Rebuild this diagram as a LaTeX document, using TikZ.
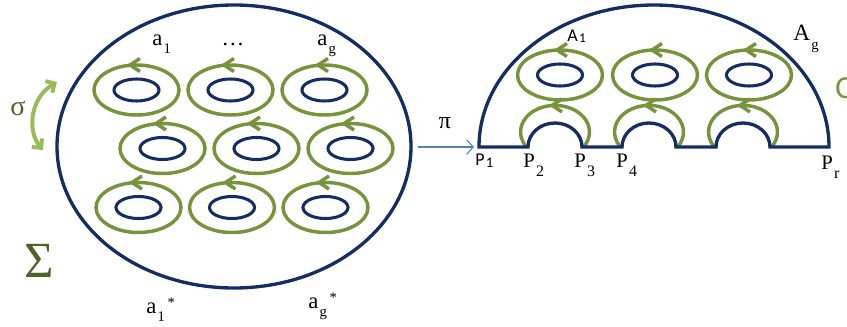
\documentclass[tikz,border=0pt]{standalone}
\usepackage{fontspec}
\setmainfont{Liberation Serif}
\newfontfamily\calfont{Carlito}
\usetikzlibrary{arrows.meta}
\definecolor{navy}{RGB}{22,44,100}
\definecolor{ring}{RGB}{119,147,60}
\definecolor{lgreen}{RGB}{155,187,89}
\definecolor{dolive}{RGB}{79,98,40}
\definecolor{pblue}{RGB}{79,129,189}
\newcommand\lowsub[3]{\hspace{1pt}\raisebox{-#2}{\fontsize{#1}{#1}\selectfont #3}}
\newcommand\highsup[2]{\hspace{2pt}\raisebox{#1}{\fontsize{11}{11}\selectfont #2}}
\newcommand\gring[3]{%
  \draw[cyc] (#1,#2) ellipse[x radius=42.5,y radius=25];
  \draw[hole] (#1,#2) ellipse[x radius=22.5,y radius=11];
  \draw[cyc] (#1-#3+10,#2+31.5) -- (#1-#3,#2+25) -- (#1-#3+10,#2+18.5);}
\newcommand\bumpcyc[1]{%
  \draw[cyc] (#1-28.5,179) arc[start angle=214.3,end angle=-34.3,x radius=34.5,y radius=26.6];
  \draw[cyc] (#1+7,227.1) -- (#1-3,220.6) -- (#1+7,214.1);}
\begin{document}
\begin{tikzpicture}[x=0.75pt,y=0.75pt,
  outer/.style={draw=navy,line width=2.5pt},
  hole/.style={draw=navy,line width=2.3pt},
  cyc/.style={draw=ring,line width=2.6pt,line join=miter},
  lab/.style={inner sep=0pt,anchor=base west,font=\fontsize{17}{20}\selectfont},
  plab/.style={inner sep=0pt,anchor=base west,font=\fontsize{15.5}{18}\selectfont},
  clab/.style={inner sep=0pt,anchor=base west,font=\calfont\fontsize{13.5}{16}\selectfont}]
\useasboundingbox (0,0) rectangle (847,326);
\clip (0,0) rectangle (847,326);

% ---------- left surface Sigma ----------
\draw[outer] (234,179.5) ellipse[x radius=177,y radius=141.5];
\gring{136.5}{236}{6.5}
\gring{230.5}{236}{6.5}
\gring{324.5}{236}{6.5}
\gring{162.5}{177.5}{6.5}
\gring{256.5}{177.5}{6.5}
\gring{350.5}{177.5}{6.5}
\gring{138.5}{118.5}{6.5}
\gring{232}{118.5}{6.5}
\gring{325.5}{118.5}{6.5}

\node[lab] (a1) at (152,281) {a\lowsub{11}{6pt}{1}};
\node[lab,anchor=base] (dots) at (233,281) {\dots};
\node[lab] (ag) at (317,281) {a\lowsub{11}{6pt}{g}};
\node[lab] (a1s) at (146,13) {a\lowsub{11}{6pt}{1}\highsup{4pt}{*}};
\node[lab] (ags) at (308,18) {a\lowsub{11}{6pt}{g}\highsup{4pt}{*}};

% sigma involution arrow
\coordinate (st) at (57,244);
\coordinate (sb) at (43,176);
\draw[lgreen,line width=3pt,{Straight Barb[length=5pt,width=10pt]}-{Straight Barb[length=5pt,width=10pt]}]
  (st) .. controls (30,228) and (27,195) .. (sb);
\node[inner sep=0pt,anchor=base,text=dolive,font=\fontsize{21}{24}\selectfont] (sigma) at (18,211) {σ};
\node[inner sep=0pt,anchor=base,text=dolive,font=\fontsize{38}{42}\selectfont] (Sigma) at (39,49) {Σ};

% ---------- projection pi ----------
\coordinate (pa) at (418,179);
\coordinate (pb) at (474,179);
\draw[pblue,line width=0.8pt,-{Straight Barb[length=5pt,width=11pt]}] (pa) -- (pb);
\node[inner sep=0pt,anchor=base,font=\fontsize{18}{20}\selectfont] (pi) at (445,198) {π};

% ---------- right quotient C ----------
\gring{560}{251}{3}
\gring{655}{251}{3}
\gring{749}{251}{3}
\bumpcyc{555}
\bumpcyc{649}
\bumpcyc{743}
\draw[outer,line join=miter] (479,179) -- (528,179)
  arc[start angle=180,end angle=0,x radius=27,y radius=24] -- (622,179)
  arc[start angle=180,end angle=0,x radius=27,y radius=24] -- (716,179)
  arc[start angle=180,end angle=0,x radius=27,y radius=24] -- (829,179)
  arc[start angle=0,end angle=180,x radius=175,y radius=142] -- cycle;

\node[clab,font=\calfont\fontsize{13.5}{16}\selectfont] (A1) at (567,285) {A\lowsub{10}{1pt}{1}};
\node[lab,font=\fontsize{17.5}{20}\selectfont] (Ag) at (793,286) {A\lowsub{11}{7pt}{g}};
\node[clab] (P1) at (475,161) {P\lowsub{11}{2pt}{1}};
\node[plab] (P2) at (523,159) {P\lowsub{12}{7pt}{2}};
\node[plab] (P3) at (574,159) {P\lowsub{12}{7pt}{3}};
\node[plab] (P4) at (616,159) {P\lowsub{12}{7pt}{4}};
\node[plab] (Pr) at (821,157) {P\lowsub{12}{7pt}{r}};
\node[inner sep=0pt,anchor=base west,text=ring,font=\calfont\fontsize{24}{26}\selectfont] (C) at (835,228) {C};
\end{tikzpicture}
\end{document}
